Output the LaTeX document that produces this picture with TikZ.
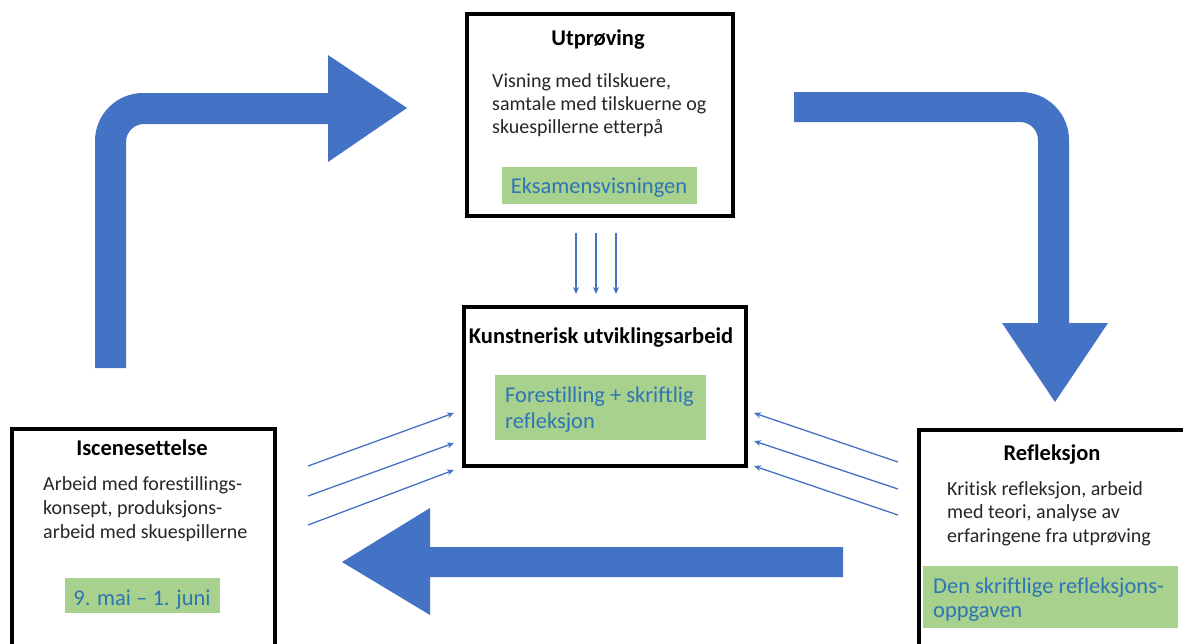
\documentclass[tikz,border=0pt]{standalone}
\usepackage{fontspec}
\setmainfont[Ligatures=NoCommon]{Carlito}
\usetikzlibrary{arrows.meta}
\definecolor{arrowblue}{HTML}{4472C4}
\definecolor{greenbg}{HTML}{A9D18E}
\definecolor{textblue}{HTML}{2E75B6}
\definecolor{bodygray}{HTML}{262626}
\begin{document}
\begin{tikzpicture}[x=1pt,y=-1pt,
  box/.style={draw=black,line width=3.5pt,inner sep=0pt,fill=white},
  greenbox/.style={fill=greenbg,draw=none,inner sep=0pt},
  title/.style={anchor=base,inner sep=0pt,font=\fontsize{22.5}{26}\selectfont\bfseries},
  body/.style={anchor=base west,inner sep=0pt,text=bodygray,font=\fontsize{20}{23}\selectfont},
  gtext/.style={anchor=base west,inner sep=0pt,text=textblue,font=\fontsize{22.5}{26}\selectfont},
  gtextc/.style={anchor=base,inner sep=0pt,text=textblue,font=\fontsize{22.5}{26}\selectfont},
  big/.style={fill=arrowblue,draw=none},
  thin/.style={draw=arrowblue,line width=1.3pt,-{Stealth[length=7pt,width=6pt]}}]
\useasboundingbox (0,0) rectangle (1183,643);
\clip (0,0) rectangle (1183,643);

% big arrows
\fill[big] (95,368) -- (95,141) .. controls (95,114.5) and (116.5,93) .. (143,93)
  -- (328,93) -- (328,55) -- (407,108) -- (328,162) -- (328,124) -- (144,124)
  .. controls (134.1,124) and (126,132.1) .. (126,142) -- (126,368) -- cycle;
\fill[big] (794,92) -- (1021,92) .. controls (1047.5,92) and (1069,113.5) .. (1069,140)
  -- (1069,323) -- (1108,323) -- (1055,402) -- (1002,323) -- (1038,323) -- (1038,140)
  .. controls (1038,130.1) and (1029.9,122) .. (1020,122) -- (794,122) -- cycle;
\fill[big] (843,547) -- (430,547) -- (430,508) -- (342,562) -- (430,615) -- (430,577) -- (843,577) -- cycle;

% boxes
\node[box,minimum width=266pt,minimum height=202pt] (utp) at (600,115) {};
\node[box,minimum width=282pt,minimum height=159pt] (kua) at (605,386.5) {};
\node[box,minimum width=263pt,minimum height=240pt] (isc) at (143.5,549) {};
\node[box,minimum width=290pt,minimum height=240pt] (ref) at (1064,550) {};

% green boxes
\node[greenbox,minimum width=195pt,minimum height=37pt] (utpG) at (599.5,185.5) {};
\node[greenbox,minimum width=211pt,minimum height=65pt] (kuaG) at (600.5,407.5) {};
\node[greenbox,minimum width=155pt,minimum height=35pt] (iscG) at (142.5,595.5) {};
\node[greenbox,minimum width=255pt,minimum height=62pt] (refG) at (1050.5,597) {};

% top box texts
\node[title] (utpT) at (598,45) {Utprøving};
\node[body] (utp1) at (492,87) {Visning med tilskuere,};
\node[body] (utp2) at (492,110) {samtale med tilskuerne og};
\node[body] (utp3) at (492,133) {skuespillerne etterpå};
\node[gtextc] (utpg) at (599,193) {Eksamensvisningen};

% centre box texts
\node[title] (kuaT) at (601,343) {Kunstnerisk utviklingsarbeid};
\node[gtext] (kua1) at (505,402) {Forestilling + skriftlig};
\node[gtext] (kua2) at (505,428) {refleksjon};

% left box texts
\node[title] (iscT) at (142,455) {Iscenesettelse};
\node[body] (isc1) at (43,490) {Arbeid med forestillings-};
\node[body] (isc2) at (43,514) {konsept, produksjons-};
\node[body] (isc3) at (43,538) {arbeid med skuespillerne};
\node[gtextc] (iscg) at (142,605) {9. mai – 1. juni};

% right box texts
\node[title] (refT) at (1052,460) {Refleksjon};
\node[body] (ref1) at (947,495) {Kritisk refleksjon, arbeid};
\node[body] (ref2) at (947,518) {med teori, analyse av};
\node[body] (ref3) at (947,542) {erfaringene fra utprøving};
\node[gtext] (refg1) at (933,593) {Den skriftlige refleksjons-};
\node[gtext] (refg2) at (933,617) {oppgaven};

% thin arrows
\coordinate (d1s) at (576,233); \coordinate (d1e) at (576,294);
\coordinate (d2s) at (596,233); \coordinate (d2e) at (596,294);
\coordinate (d3s) at (616,233); \coordinate (d3e) at (616,294);
\draw[thin] (d1s) -- (d1e);
\draw[thin] (d2s) -- (d2e);
\draw[thin] (d3s) -- (d3e);

\coordinate (l1s) at (308,466); \coordinate (l1e) at (454,413);
\coordinate (l2s) at (308,496); \coordinate (l2e) at (454,443);
\coordinate (l3s) at (308,525); \coordinate (l3e) at (454,470);
\draw[thin] (l1s) -- (l1e);
\draw[thin] (l2s) -- (l2e);
\draw[thin] (l3s) -- (l3e);

\coordinate (r1s) at (898,462); \coordinate (r1e) at (754,413);
\coordinate (r2s) at (898,489); \coordinate (r2e) at (754,441);
\coordinate (r3s) at (898,515); \coordinate (r3e) at (754,466);
\draw[thin] (r1s) -- (r1e);
\draw[thin] (r2s) -- (r2e);
\draw[thin] (r3s) -- (r3e);
\end{tikzpicture}
\end{document}
